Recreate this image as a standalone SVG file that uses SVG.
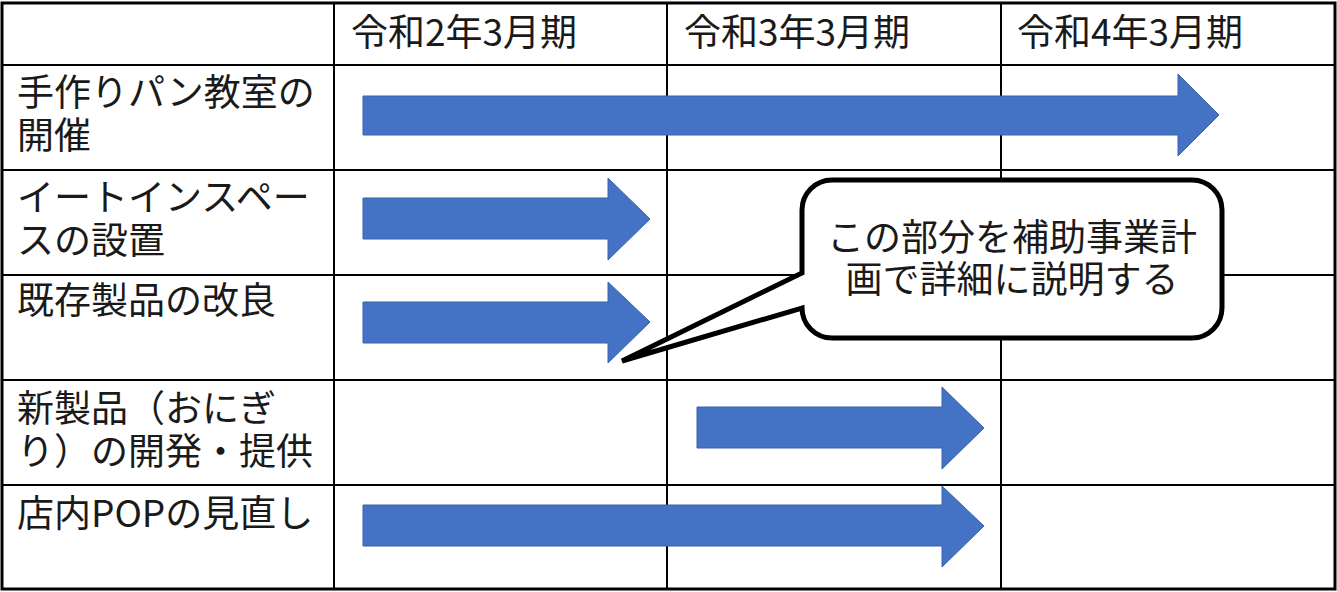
<svg xmlns="http://www.w3.org/2000/svg" width="1337" height="592" viewBox="0 0 1337 592">
<style>
.t{font-family:"Noto Sans CJK JP","Noto Sans",sans-serif;font-size:37px;fill:#1a1a1a}
.grid line{stroke:#000;stroke-width:2}
.arr{fill:#4472C4;stroke:#3a63ad;stroke-width:1}
</style>
<rect width="1337" height="592" fill="#fff"/>
<g id="grid" class="grid">
<rect x="2" y="3" width="1333" height="586" fill="none" stroke="#000" stroke-width="3"/>
<line x1="334" y1="3" x2="334" y2="589"/>
<line x1="667" y1="3" x2="667" y2="589"/>
<line x1="1001" y1="3" x2="1001" y2="589"/>
<line x1="2" y1="65" x2="1335" y2="65"/>
<line x1="2" y1="170" x2="1335" y2="170"/>
<line x1="2" y1="275" x2="1335" y2="275"/>
<line x1="2" y1="380" x2="1335" y2="380"/>
<line x1="2" y1="485" x2="1335" y2="485"/>
</g>
<g id="headers">
<text class="t" x="351" y="46">令和2年3月期</text>
<text class="t" x="684" y="46">令和3年3月期</text>
<text class="t" x="1017" y="46">令和4年3月期</text>
</g>
<g id="row1"><text class="t" x="17" y="106">手作りパン教室の</text><text class="t" x="17" y="149">開催</text></g>
<g id="row2"><text class="t" x="17" y="211">イートインスペー</text><text class="t" x="17" y="254">スの設置</text></g>
<g id="row3"><text class="t" x="17" y="314">既存製品の改良</text></g>
<g id="row4"><text class="t" x="17" y="422">新製品（おにぎ</text><text class="t" x="17" y="465">り）の開発・提供</text></g>
<g id="row5"><text class="t" x="17" y="527">店内POPの見直し</text></g>
<g id="arrows">
<polygon class="arr" points="363,96 1178,96 1178,74 1219,115 1178,156 1178,135 363,135"/>
<polygon class="arr" points="363,198 608,198 608,178 650,219 608,260 608,239 363,239"/>
<polygon class="arr" points="363,302 608,302 608,282 650,322 608,363 608,343 363,343"/>
<polygon class="arr" points="697,407 942,407 942,387 984,428 942,469 942,448 697,448"/>
<polygon class="arr" points="363,505 942,505 942,486 984,526 942,567 942,546 363,546"/>
</g>
<g id="callout">
<path d="M832 180 H1192 A30 30 0 0 1 1222 210 V308 A30 30 0 0 1 1192 338 H832 A30 30 0 0 1 802 308 L622 361 L802 273 V210 A30 30 0 0 1 832 180 Z" fill="#fff" stroke="#000" stroke-width="5" stroke-linejoin="miter"/>
<text class="t" x="1012" y="251" text-anchor="middle">この部分を補助事業計</text>
<text class="t" x="1012" y="293" text-anchor="middle">画で詳細に説明する</text>
</g>
</svg>
